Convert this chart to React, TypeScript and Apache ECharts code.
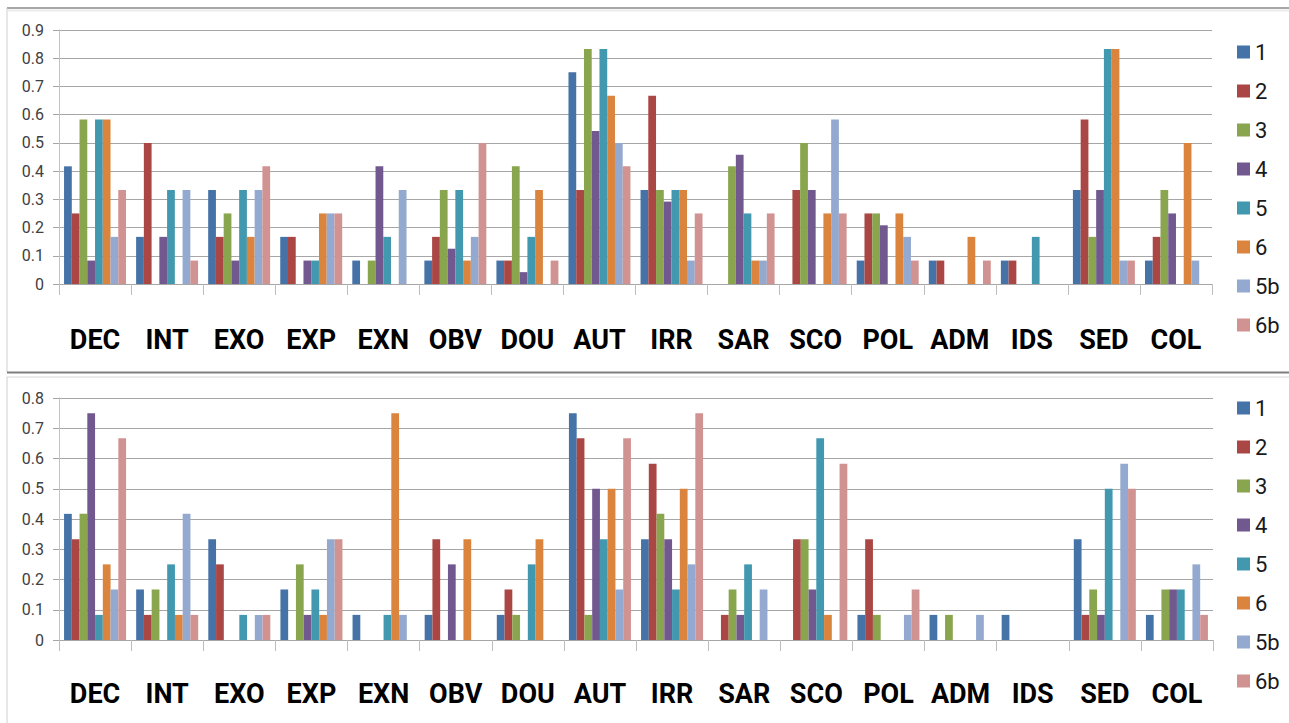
import React, { useEffect, useRef } from "react";
import * as echarts from "echarts";

const categories = ["DEC", "INT", "EXO", "EXP", "EXN", "OBV", "DOU", "AUT", "IRR", "SAR", "SCO", "POL", "ADM", "IDS", "SED", "COL"];
const seriesNames = ["1", "2", "3", "4", "5", "6", "5b", "6b"];
const seriesColors = ["#4572A7", "#AA4643", "#89A54E", "#71588F", "#4198AF", "#DB843D", "#93A9CF", "#D19392"];

// Top panel: one array per series, across categories
const top1 = [0.417, 0.167, 0.333, 0.167, 0.083, 0.083, 0.083, 0.75, 0.333, 0, 0, 0.083, 0.083, 0.083, 0.333, 0.083];
const top2 = [0.25, 0.5, 0.167, 0.167, 0, 0.167, 0.083, 0.333, 0.667, 0, 0.333, 0.25, 0.083, 0.083, 0.583, 0.167];
const top3 = [0.583, 0, 0.25, 0, 0.083, 0.333, 0.417, 0.833, 0.333, 0.417, 0.5, 0.25, 0, 0, 0.167, 0.333];
const top4 = [0.083, 0.167, 0.083, 0.083, 0.417, 0.125, 0.042, 0.542, 0.292, 0.458, 0.333, 0.208, 0, 0, 0.333, 0.25];
const top5 = [0.583, 0.333, 0.333, 0.083, 0.167, 0.333, 0.167, 0.833, 0.333, 0.25, 0, 0, 0, 0.167, 0.833, 0];
const top6 = [0.583, 0, 0.167, 0.25, 0, 0.083, 0.333, 0.667, 0.333, 0.083, 0.25, 0.25, 0.167, 0, 0.833, 0.5];
const top5b = [0.167, 0.333, 0.333, 0.25, 0.333, 0.167, 0, 0.5, 0.083, 0.083, 0.583, 0.167, 0, 0, 0.083, 0.083];
const top6b = [0.333, 0.083, 0.417, 0.25, 0, 0.5, 0.083, 0.417, 0.25, 0.25, 0.25, 0.083, 0.083, 0, 0.083, 0];

// Bottom panel
const bot1 = [0.417, 0.167, 0.333, 0.167, 0.083, 0.083, 0.083, 0.75, 0.333, 0, 0, 0.083, 0.083, 0.083, 0.333, 0.083];
const bot2 = [0.333, 0.083, 0.25, 0, 0, 0.333, 0.167, 0.667, 0.583, 0.083, 0.333, 0.333, 0, 0, 0.083, 0];
const bot3 = [0.417, 0.167, 0, 0.25, 0, 0, 0.083, 0.083, 0.417, 0.167, 0.333, 0.083, 0.083, 0, 0.167, 0.167];
const bot4 = [0.75, 0, 0, 0.083, 0, 0.25, 0, 0.5, 0.333, 0.083, 0.167, 0, 0, 0, 0.083, 0.167];
const bot5 = [0.083, 0.25, 0.083, 0.167, 0.083, 0, 0.25, 0.333, 0.167, 0.25, 0.667, 0, 0, 0, 0.5, 0.167];
const bot6 = [0.25, 0.083, 0, 0.083, 0.75, 0.333, 0.333, 0.5, 0.5, 0, 0.083, 0, 0, 0, 0, 0];
const bot5b = [0.167, 0.417, 0.083, 0.333, 0.083, 0, 0, 0.167, 0.25, 0.167, 0, 0.083, 0.083, 0, 0.583, 0.25];
const bot6b = [0.667, 0.083, 0.083, 0.333, 0, 0, 0, 0.667, 0.75, 0, 0.583, 0.167, 0, 0, 0.5, 0.083];

const topTicks = { min: 0, max: 0.9, interval: 0.1 };
const botTicks = { min: 0, max: 0.8, interval: 0.1 };

const topData = [top1, top2, top3, top4, top5, top6, top5b, top6b];
const botData = [bot1, bot2, bot3, bot4, bot5, bot6, bot5b, bot6b];

const catFont = "Roboto, Liberation Sans, sans-serif";

export default function App() {
  const ref = useRef<HTMLDivElement>(null);
  useEffect(() => {
    if (!ref.current) return;
    const chart = echarts.init(ref.current, undefined, { renderer: "svg" });

    const makeX = (gridIndex: number) => ({
      type: "category",
      gridIndex,
      data: categories,
      axisLine: { lineStyle: { color: "#a6a6a6", width: 1 } },
      axisTick: { show: true, length: 11, alignWithLabel: false, lineStyle: { color: "#bdbdbd" } },
      axisLabel: {
        interval: 0,
        margin: gridIndex === 0 ? 42 : 40,
        fontFamily: catFont,
        fontWeight: "bold",
        fontSize: 27,
        color: "#000",
      },
      splitLine: { show: false },
    });
    const makeY = (gridIndex: number, t: { min: number; max: number; interval: number }) => ({
      type: "value",
      gridIndex,
      min: t.min,
      max: t.max,
      interval: t.interval,
      axisLine: { show: true, lineStyle: { color: "#c4c4c4" } },
      axisTick: { show: true, length: 6, lineStyle: { color: "#a6a6a6" } },
      axisLabel: {
        margin: 15,
        fontFamily: "Roboto, Liberation Sans, sans-serif",
        fontSize: 16,
        color: "#404040",
        formatter: (v: number) => (Math.round(v * 10) / 10).toString(),
      },
      splitLine: { show: true, lineStyle: { color: "#a6a6a6", width: 1 } },
    });

    const makeSeries = (data: number[][], idx: number) =>
      data.map((vals, i) => ({
        name: seriesNames[i],
        type: "bar",
        xAxisIndex: idx,
        yAxisIndex: idx,
        data: vals,
        barGap: "0%",
        barCategoryGap: "14%",
        itemStyle: { color: seriesColors[i] },
      }));

    const makeLegend = (top: number) => ({
      orient: "vertical",
      left: 1237,
      top,
      padding: 0,
      itemWidth: 13,
      itemHeight: 13,
      itemGap: 17,
      icon: "rect",
      data: seriesNames,
      textStyle: { fontFamily: catFont, fontSize: 22, color: "#1a1a1a" },
    });

    chart.setOption({
      animation: false,
      backgroundColor: "#fff",
      color: seriesColors,
      grid: [
        { left: 59, top: 30, width: 1153, height: 254 },
        { left: 59, top: 398, width: 1154, height: 242 },
      ],
      xAxis: [makeX(0), makeX(1)],
      yAxis: [makeY(0, topTicks), makeY(1, botTicks)],
      legend: [makeLegend(41), makeLegend(397)],
      series: [...makeSeries(topData, 0), ...makeSeries(botData, 1)],
      graphic: [
        { type: "line", shape: { x1: 7, y1: 8, x2: 1289, y2: 8 }, style: { stroke: "#8a8a8a", lineWidth: 1.5 } },
        { type: "line", shape: { x1: 8, y1: 10.5, x2: 1289, y2: 10.5 }, style: { stroke: "#ebebeb", lineWidth: 2 } },
        { type: "line", shape: { x1: 7, y1: 8, x2: 7, y2: 372 }, style: { stroke: "#cfcfcf", lineWidth: 1 } },
        { type: "line", shape: { x1: 7, y1: 372.5, x2: 1289, y2: 372.5 }, style: { stroke: "#7f7f7f", lineWidth: 2 } },
        { type: "line", shape: { x1: 7, y1: 377, x2: 1289, y2: 377 }, style: { stroke: "#d6d6d6", lineWidth: 1 } },
        { type: "line", shape: { x1: 7, y1: 377, x2: 7, y2: 723 }, style: { stroke: "#cfcfcf", lineWidth: 1 } },
      ],
    });
    return () => chart.dispose();
  }, []);
  return <div ref={ref} style={{ position: "fixed", left: 0, top: 0, width: 1289, height: 723 }} />;
}
